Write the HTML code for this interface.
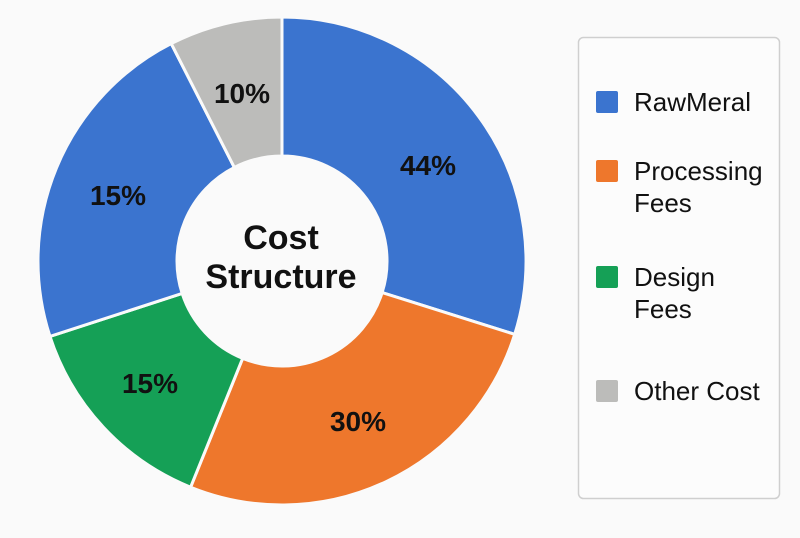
<!DOCTYPE html>
<html><head><style>
body{margin:0;background:#fafafa;width:800px;height:533px;overflow:hidden;font-family:"Liberation Sans",sans-serif}
</style></head><body>
<svg id="s" width="800" height="533" xmlns="http://www.w3.org/2000/svg">
<rect width="800" height="533" fill="#fafafa"/>
<g id="arcs"></g>
<g font-family="Liberation Sans, sans-serif" font-weight="bold" fill="#111" text-anchor="middle">
<text x="428" y="175" font-size="28">44%</text>
<text x="358" y="431" font-size="28">30%</text>
<text x="150" y="393" font-size="28">15%</text>
<text x="118" y="205" font-size="28">15%</text>
<text x="242" y="103" font-size="28">10%</text>
<text x="281" y="249" font-size="34">Cost</text>
<text x="281" y="288" font-size="34">Structure</text>
</g>
<rect x="578.5" y="37.5" width="201" height="461" rx="5" fill="#fcfcfc" stroke="#cfcfcf" stroke-width="1.5"/>
<rect x="596" y="91" width="22" height="22" rx="2" fill="#3b74cf"/>
<rect x="596" y="160" width="22" height="22" rx="2" fill="#ee772c"/>
<rect x="596" y="266" width="22" height="22" rx="2" fill="#15a056"/>
<rect x="596" y="380" width="22" height="22" rx="2" fill="#bcbcba"/>
<g font-family="Liberation Sans, sans-serif" font-size="26" fill="#111">
<text x="634" y="111">RawMeral</text>
<text x="634" y="180">Processing</text>
<text x="634" y="212">Fees</text>
<text x="634" y="286">Design</text>
<text x="634" y="318">Fees</text>
<text x="634" y="400">Other Cost</text>
</g>
</svg>
<script>
var cx=282,cy=261,R=244,r=105;
var segs=[[0,107.5,"#3b74cf"],[107.5,202,"#ee772c"],[202,252,"#15a056"],[252,333,"#3b74cf"],[333,360,"#bcbcba"]];
function p(a,rad){a=a*Math.PI/180;return [cx+rad*Math.sin(a),cy-rad*Math.cos(a)];}
var g=document.getElementById("arcs"),h="";
segs.forEach(function(s){
var a0=s[0],a1=s[1],lg=(a1-a0)>180?1:0;
var o0=p(a0,R),o1=p(a1,R),i1=p(a1,r),i0=p(a0,r);
h+='<path d="M'+o0+' A'+R+','+R+' 0 '+lg+' 1 '+o1+' L'+i1+' A'+r+','+r+' 0 '+lg+' 0 '+i0+' Z" fill="'+s[2]+'" stroke="#fafafa" stroke-width="3"/>';
});
g.innerHTML=h;
</script>
</body></html>
